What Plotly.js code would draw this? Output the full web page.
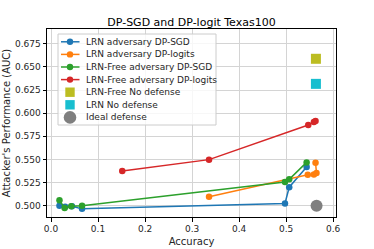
<!DOCTYPE html>
<html><head><meta charset="utf-8">
<script src="https://cdn.plot.ly/plotly-3.0.1.min.js"></script>
<style>html,body{margin:0;padding:0;background:#fff}#chart{width:374px;height:249px}</style>
</head><body><div id="chart"></div>
<script>
// Data
const lrnSgdAcc = [0.018, 0.030, 0.0445, 0.066, 0.4975, 0.5065, 0.5435];
const lrnSgdAuc = [0.500, 0.4988, 0.4993, 0.4966, 0.5025, 0.520, 0.5418];
const lrnLogitAcc = [0.336, 0.546, 0.559, 0.5645, 0.5625];
const lrnLogitAuc = [0.5097, 0.5335, 0.5337, 0.5353, 0.5465];
const freeSgdAcc = [0.018, 0.029, 0.043, 0.066, 0.4975, 0.5065, 0.5435];
const freeSgdAuc = [0.5058, 0.4975, 0.4993, 0.5000, 0.5257, 0.5285, 0.5468];
const freeLogitAcc = [0.1515, 0.336, 0.547, 0.559, 0.5625];
const freeLogitAuc = [0.5375, 0.5498, 0.5873, 0.5906, 0.5915];
const freeNoDefAcc = [0.5633], freeNoDefAuc = [0.6588];
const lrnNoDefAcc = [0.5633], lrnNoDefAuc = [0.6317];
const idealAcc = [0.5647], idealAuc = [0.500];
const names = ["LRN adversary DP-SGD","LRN adversary DP-logits","LRN-Free adversary DP-SGD","LRN-Free adversary DP-logits","LRN-Free No defense","LRN No defense","Ideal defense"];
const kinds = ["line","line","line","line","square","square","big"];
const colors = ["#1f77b4","#ff7f0e","#2ca02c","#d62728","#bcbd22","#17becf","#7f7f7f"];

function lineTrace(x,y,i){return {x:x,y:y,name:names[i],mode:"lines+markers",type:"scatter",
  line:{color:colors[i],width:1.5},marker:{color:colors[i],size:6.5}};}
const traces = [
  lineTrace(lrnSgdAcc,lrnSgdAuc,0),
  lineTrace(lrnLogitAcc,lrnLogitAuc,1),
  lineTrace(freeSgdAcc,freeSgdAuc,2),
  lineTrace(freeLogitAcc,freeLogitAuc,3),
  {x:freeNoDefAcc,y:freeNoDefAuc,name:names[4],mode:"markers",type:"scatter",marker:{symbol:"square",color:colors[4],size:10}},
  {x:lrnNoDefAcc,y:lrnNoDefAuc,name:names[5],mode:"markers",type:"scatter",marker:{symbol:"square",color:colors[5],size:10}},
  {x:idealAcc,y:idealAuc,name:names[6],mode:"markers",type:"scatter",marker:{symbol:"circle",color:colors[6],size:12}}
];

// Compact matplotlib-style legend (layout decoration, paper coordinates)
const W=374,H=249,M={l:47,r:38,t:29,b:32};
const pw=W-M.l-M.r, ph=H-M.t-M.b;
const px=v=>(v-M.l)/pw, py=v=>1-(v-M.t)/ph;
const shapes=[{type:"rect",xref:"paper",yref:"paper",x0:px(58),x1:px(216),y0:py(125),y1:py(34),
  fillcolor:"rgba(255,255,255,0.8)",line:{color:"#cccccc",width:1},layer:"above"}];
const annotations=[];
names.forEach((n,i)=>{
  const yc=py(41.8+12.6*i), xc=px(70);
  if(kinds[i]==="line"){
    shapes.push({type:"line",xref:"paper",yref:"paper",x0:px(61),x1:px(79.5),y0:yc,y1:yc,line:{color:colors[i],width:1.5},layer:"above"});
    shapes.push({type:"circle",xref:"paper",yref:"paper",xsizemode:"pixel",ysizemode:"pixel",xanchor:xc,yanchor:yc,
      x0:-3.2,x1:3.2,y0:-3.2,y1:3.2,fillcolor:colors[i],line:{width:0},layer:"above"});
  } else if(kinds[i]==="square"){
    shapes.push({type:"rect",xref:"paper",yref:"paper",xsizemode:"pixel",ysizemode:"pixel",xanchor:xc,yanchor:yc,
      x0:-4.7,x1:4.7,y0:-4.7,y1:4.7,fillcolor:colors[i],line:{width:0},layer:"above"});
  } else {
    shapes.push({type:"circle",xref:"paper",yref:"paper",xsizemode:"pixel",ysizemode:"pixel",xanchor:xc,yanchor:yc,
      x0:-6.3,x1:6.3,y0:-6.3,y1:6.3,fillcolor:colors[i],line:{width:0},layer:"above"});
  }
  annotations.push({xref:"paper",yref:"paper",x:px(85),y:yc,xanchor:"left",yanchor:"middle",text:n,showarrow:false,
    font:{family:"DejaVu Sans",size:9,color:"#262626"},borderpad:0});
});

const layout = {
  width:W,height:H,
  margin:M,
  paper_bgcolor:"#fff",plot_bgcolor:"#fff",
  font:{family:"DejaVu Sans",size:9,color:"#262626"},
  title:{text:"DP-SGD and DP-logit Texas100",font:{family:"DejaVu Sans",size:11,color:"#000"},x:0.512,xanchor:"center",y:0.912,yanchor:"middle"},
  xaxis:{range:[-0.0085,0.606],tickvals:[0,0.1,0.2,0.3,0.4,0.5,0.6],tickformat:".1f",
    showgrid:true,gridcolor:"#d4d4d4",gridwidth:1,zeroline:false,
    showline:true,linecolor:"#000",linewidth:1,mirror:true,ticks:"outside",ticklen:3.5,tickcolor:"#000",
    tickfont:{family:"DejaVu Sans",size:9,color:"#262626"},
    title:{text:"Accuracy",font:{family:"DejaVu Sans",size:10,color:"#262626"},standoff:4}},
  yaxis:{range:[0.4878,0.691],tickvals:[0.5,0.525,0.55,0.575,0.6,0.625,0.65,0.675],tickformat:".3f",
    showgrid:true,gridcolor:"#d4d4d4",gridwidth:1,zeroline:false,
    showline:true,linecolor:"#000",linewidth:1,mirror:true,ticks:"outside",ticklen:3.5,tickcolor:"#000",
    tickfont:{family:"DejaVu Sans",size:9,color:"#262626"},
    title:{text:"Attacker's Performance (AUC)",font:{family:"DejaVu Sans",size:10,color:"#262626"},standoff:2}},
  showlegend:false,
  shapes:shapes,annotations:annotations
};
Plotly.newPlot("chart",traces,layout,{displayModeBar:false,staticPlot:true});
</script></body></html>
